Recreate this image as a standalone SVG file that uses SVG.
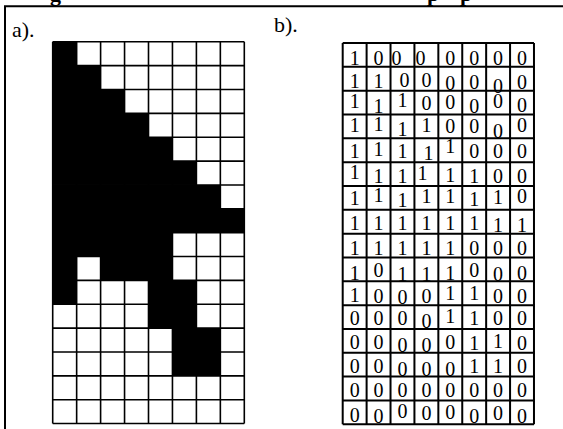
<svg xmlns="http://www.w3.org/2000/svg" width="563" height="429" viewBox="0 0 563 429">
<style>
.frame{fill:none;stroke:#000;stroke-width:2}
.lbl{font-family:"Liberation Serif","Times New Roman",serif;font-size:22px;fill:#000}
.cap{font-family:"Liberation Serif","Times New Roman",serif;font-size:22px;font-weight:bold;fill:#000}
.gridA{fill:none;stroke:#000;stroke-width:1.6}
.gridB{fill:none;stroke:#000;stroke-width:2}
.d{font-family:"Liberation Serif","Times New Roman",serif;font-size:20px;fill:#000;text-anchor:middle}
</style>
<rect width="563" height="429" fill="#fff"/>
<g id="caption-fragments">
<text class="cap" x="50" y="0.5">g</text>
<text class="cap" x="427" y="0.5">p</text>
<text class="cap" x="460" y="0.5">p</text>
</g>
<path class="frame" d="M5 429 V6.3 H563"/>
<g id="label-a"><text class="lbl" x="12" y="37">a).</text></g>
<g id="label-b"><text class="lbl" x="274" y="32">b).</text></g>
<g id="panel-a">
<g transform="translate(52.7,41.8) scale(23.95,23.86)">
<rect x="0" y="0" width="8" height="16" fill="#fff"/>
<g fill="#000">
<rect x="0" y="0" width="1" height="1"/>
<rect x="0" y="1" width="2" height="1"/>
<rect x="0" y="2" width="3" height="1"/>
<rect x="0" y="3" width="4" height="1"/>
<rect x="0" y="4" width="5" height="1"/>
<rect x="0" y="5" width="6" height="1"/>
<rect x="0" y="6" width="7" height="1"/>
<rect x="0" y="7" width="8" height="1"/>
<rect x="0" y="8" width="5" height="1"/>
<rect x="0" y="9" width="1" height="1"/>
<rect x="2" y="9" width="3" height="1"/>
<rect x="0" y="10" width="1" height="1"/>
<rect x="4" y="10" width="2" height="1"/>
<rect x="4" y="11" width="2" height="1"/>
<rect x="5" y="12" width="2" height="1"/>
<rect x="5" y="13" width="2" height="1"/>
</g>
<path class="gridA" vector-effect="non-scaling-stroke" d="M0 0V16M1 0V16M2 0V16M3 0V16M4 0V16M5 0V16M6 0V16M7 0V16M8 0V16M0 0H8M0 1H8M0 2H8M0 3H8M0 4H8M0 5H8M0 6H8M0 7H8M0 8H8M0 9H8M0 10H8M0 11H8M0 12H8M0 13H8M0 14H8M0 15H8M0 16H8"/>
</g>
</g>
<g id="panel-b">
<g transform="translate(342.7,43) scale(23.91,23.83)">
<rect x="0" y="0" width="8" height="16" fill="#fff"/>
<path class="gridB" vector-effect="non-scaling-stroke" d="M0 0V16M1 0V16M2 0V16M3 0V16M4 0V16M5 0V16M6 0V16M7 0V16M8 0V16M0 0H8M0 1H8M0 2H8M0 3H8M0 4H8M0 5H8M0 6H8M0 7H8M0 8H8M0 9H8M0 10H8M0 11H8M0 12H8M0 13H8M0 14H8M0 15H8M0 16H8"/>
</g>
<g>
<text class="d" x="354.7" y="65">1</text><text class="d" x="378.6" y="65">0</text><text class="d" x="396.5" y="65">0</text><text class="d" x="420.4" y="65">0</text><text class="d" x="450.3" y="65">0</text><text class="d" x="474.2" y="65">0</text><text class="d" x="498.1" y="65">0</text><text class="d" x="522" y="65">0</text>
<text class="d" x="354.7" y="88.3">1</text><text class="d" x="378.6" y="88.3">1</text><text class="d" x="404.5" y="86.7">0</text><text class="d" x="426.4" y="86.7">0</text><text class="d" x="450.3" y="90">0</text><text class="d" x="474.2" y="89.3">0</text><text class="d" x="498.1" y="93.3">0</text><text class="d" x="522" y="89.3">0</text>
<text class="d" x="354.7" y="108.3">1</text><text class="d" x="378.6" y="113.3">1</text><text class="d" x="402.5" y="107.3">1</text><text class="d" x="426.4" y="110">0</text><text class="d" x="450.3" y="109.3">0</text><text class="d" x="474.2" y="113.3">0</text><text class="d" x="498.1" y="108.3">0</text><text class="d" x="522" y="111.7">0</text>
<text class="d" x="354.7" y="131.7">1</text><text class="d" x="378.6" y="130.7">1</text><text class="d" x="402.5" y="136">1</text><text class="d" x="426.4" y="131.7">1</text><text class="d" x="450.3" y="133.3">0</text><text class="d" x="474.2" y="133.3">0</text><text class="d" x="498.1" y="138.3">0</text><text class="d" x="522" y="131.7">0</text>
<text class="d" x="354.7" y="158.3">1</text><text class="d" x="378.6" y="156">1</text><text class="d" x="402.5" y="158.3">1</text><text class="d" x="428.4" y="160">1</text><text class="d" x="450.3" y="153.3">1</text><text class="d" x="474.2" y="158.3">0</text><text class="d" x="498.1" y="158.3">0</text><text class="d" x="522" y="158.3">0</text>
<text class="d" x="354.7" y="179.3">1</text><text class="d" x="378.6" y="182.7">1</text><text class="d" x="402.5" y="182.7">1</text><text class="d" x="422.4" y="180">1</text><text class="d" x="450.3" y="181.7">1</text><text class="d" x="474.2" y="182.7">1</text><text class="d" x="498.1" y="183.3">0</text><text class="d" x="522" y="182.7">0</text>
<text class="d" x="354.7" y="205">1</text><text class="d" x="378.6" y="201.7">1</text><text class="d" x="402.5" y="206.7">1</text><text class="d" x="426.4" y="202.7">1</text><text class="d" x="450.3" y="202.7">1</text><text class="d" x="474.2" y="206">1</text><text class="d" x="498.1" y="204.3">1</text><text class="d" x="522" y="202.7">0</text>
<text class="d" x="354.7" y="230">1</text><text class="d" x="378.6" y="230">1</text><text class="d" x="402.5" y="230">1</text><text class="d" x="426.4" y="230">1</text><text class="d" x="450.3" y="230">1</text><text class="d" x="474.2" y="230">1</text><text class="d" x="498.1" y="232">1</text><text class="d" x="522" y="232">1</text>
<text class="d" x="354.7" y="255">1</text><text class="d" x="378.6" y="255">1</text><text class="d" x="402.5" y="255">1</text><text class="d" x="426.4" y="255">1</text><text class="d" x="450.3" y="255">1</text><text class="d" x="474.2" y="255">0</text><text class="d" x="498.1" y="255">0</text><text class="d" x="522" y="255">0</text>
<text class="d" x="354.7" y="280">1</text><text class="d" x="378.6" y="277.3">0</text><text class="d" x="402.5" y="280.7">1</text><text class="d" x="426.4" y="280.7">1</text><text class="d" x="450.3" y="280">1</text><text class="d" x="474.2" y="276.7">0</text><text class="d" x="498.1" y="280.7">0</text><text class="d" x="522" y="280">0</text>
<text class="d" x="354.7" y="301.7">1</text><text class="d" x="378.6" y="303.3">0</text><text class="d" x="402.5" y="304">0</text><text class="d" x="426.4" y="303.3">0</text><text class="d" x="450.3" y="300">1</text><text class="d" x="474.2" y="300">1</text><text class="d" x="498.1" y="303.3">0</text><text class="d" x="522" y="303.3">0</text>
<text class="d" x="354.7" y="325">0</text><text class="d" x="378.6" y="325">0</text><text class="d" x="402.5" y="325">0</text><text class="d" x="426.4" y="328.3">0</text><text class="d" x="450.3" y="323.3">1</text><text class="d" x="474.2" y="325">1</text><text class="d" x="498.1" y="325">0</text><text class="d" x="522" y="325">0</text>
<text class="d" x="354.7" y="349.3">0</text><text class="d" x="378.6" y="349.3">0</text><text class="d" x="402.5" y="351.7">0</text><text class="d" x="426.4" y="351.7">0</text><text class="d" x="450.3" y="349.3">0</text><text class="d" x="474.2" y="350">1</text><text class="d" x="498.1" y="348.3">1</text><text class="d" x="522" y="350">0</text>
<text class="d" x="354.7" y="373.3">0</text><text class="d" x="378.6" y="373.3">0</text><text class="d" x="402.5" y="376">0</text><text class="d" x="426.4" y="376">0</text><text class="d" x="450.3" y="376">0</text><text class="d" x="474.2" y="372.7">1</text><text class="d" x="498.1" y="373.3">1</text><text class="d" x="522" y="373.3">0</text>
<text class="d" x="354.7" y="396.7">0</text><text class="d" x="378.6" y="396.7">0</text><text class="d" x="402.5" y="396.7">0</text><text class="d" x="426.4" y="396.7">0</text><text class="d" x="450.3" y="396.7">0</text><text class="d" x="474.2" y="396.7">0</text><text class="d" x="498.1" y="396.7">0</text><text class="d" x="522" y="396.7">0</text>
<text class="d" x="354.7" y="421.7">0</text><text class="d" x="378.6" y="423.3">0</text><text class="d" x="402.5" y="418.3">0</text><text class="d" x="426.4" y="420">0</text><text class="d" x="450.3" y="419.3">0</text><text class="d" x="474.2" y="423.3">0</text><text class="d" x="498.1" y="420">0</text><text class="d" x="522" y="422.7">0</text>
</g>
</g>
</svg>
